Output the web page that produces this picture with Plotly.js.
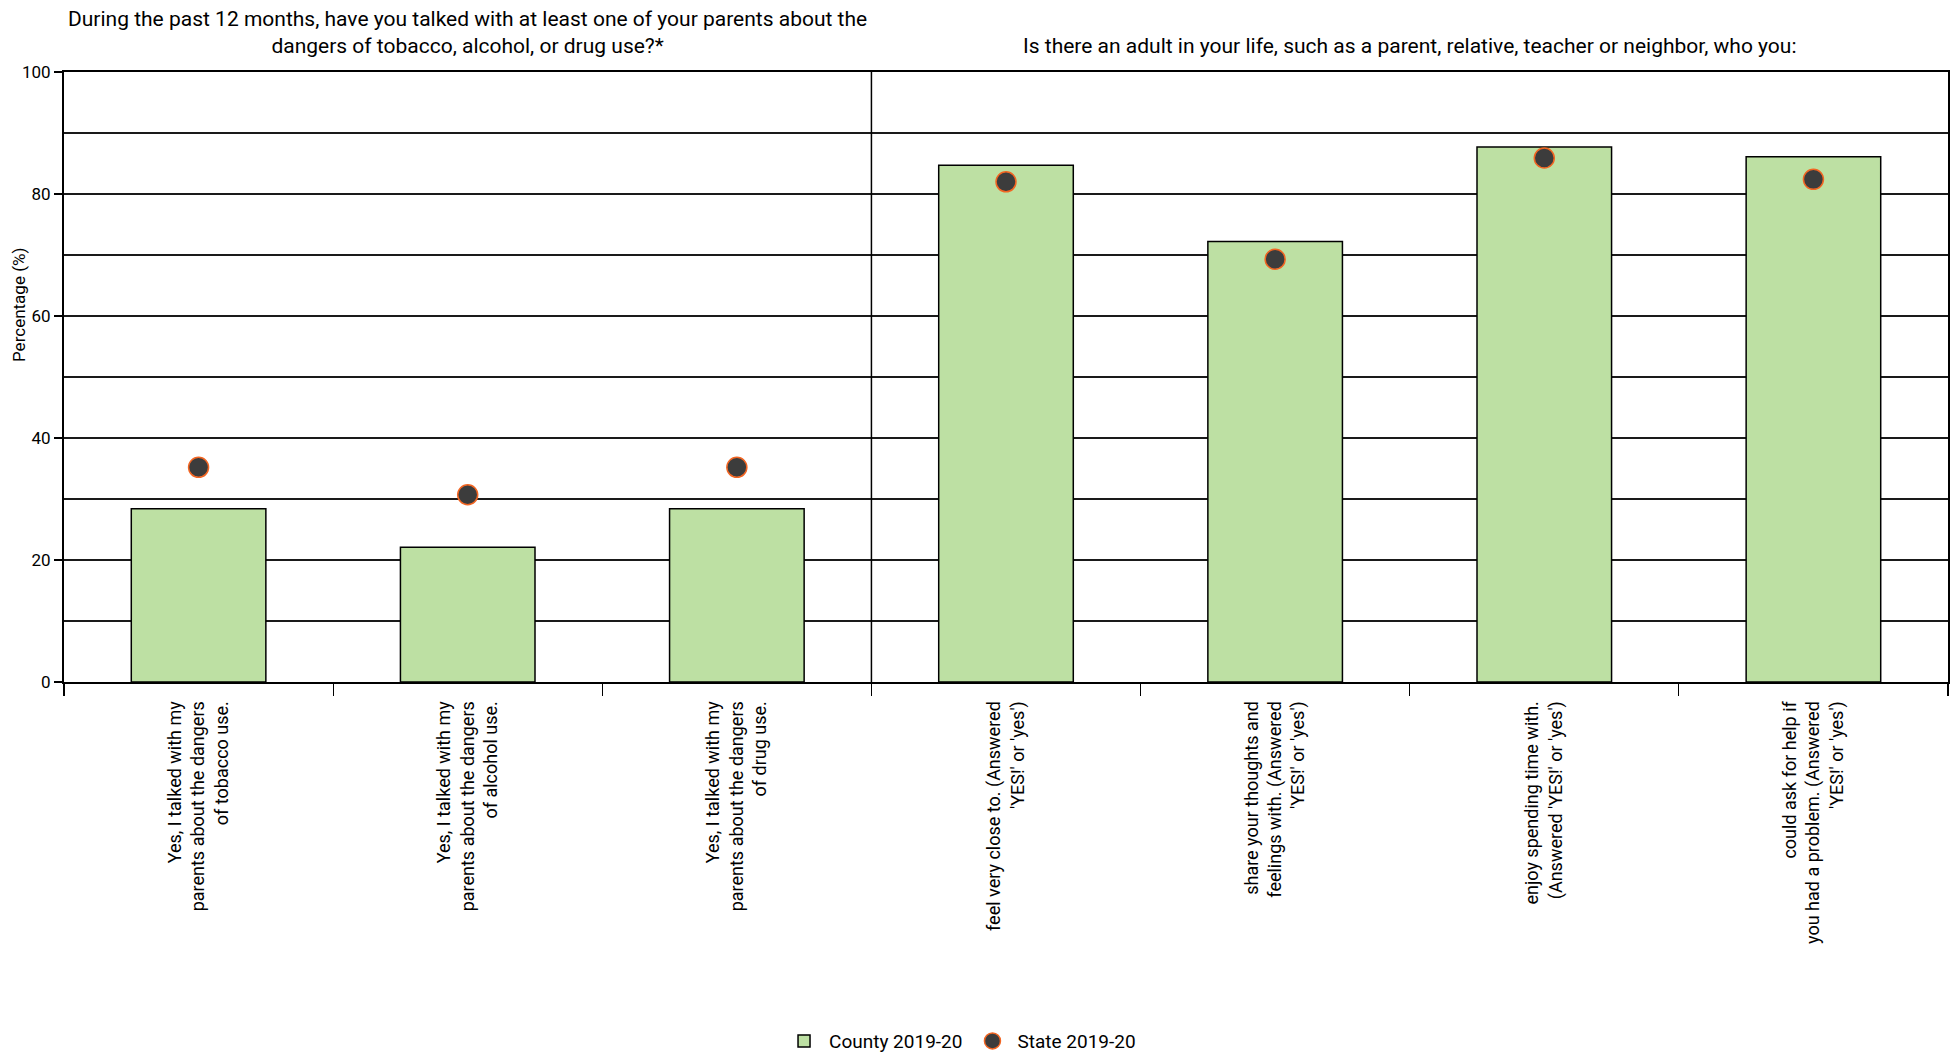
<!DOCTYPE html>
<html>
<head>
<meta charset="utf-8">
<script src="https://cdn.plot.ly/plotly-3.0.1.min.js"></script>
<style>html,body{margin:0;padding:0;background:#fff;}#chart{width:1956px;height:1054px;}</style>
</head>
<body>
<div id="chart"></div>
<script>
var categories = [
  "Yes, I talked with my<br>parents about the dangers<br>of tobacco use.",
  "Yes, I talked with my<br>parents about the dangers<br>of alcohol use.",
  "Yes, I talked with my<br>parents about the dangers<br>of drug use.",
  "feel very close to. (Answered<br>'YES!' or 'yes')",
  "share your thoughts and<br>feelings with. (Answered<br>'YES!' or 'yes')",
  "enjoy spending time with.<br>(Answered 'YES!' or 'yes')",
  "could ask for help if<br>you had a problem. (Answered<br>'YES!' or 'yes')"
];
var countyValues = [28.4, 22.1, 28.4, 84.7, 72.2, 87.7, 86.1];
var stateValues = [35.2, 30.7, 35.2, 82.0, 69.3, 85.9, 82.4];
var seriesNames = ["County 2019-20", "State 2019-20"];
var panelTitles = [
  "During the past 12 months, have you talked with at least one of your parents about the<br>dangers of tobacco, alcohol, or drug use?*",
  "Is there an adult in your life, such as a parent, relative, teacher or neighbor, who you:"
];
var yTitle = "Percentage (%)";
var panelSplit = 2.5;

var mainFont = "Roboto, sans-serif";

var traces = [
  {
    type: "bar",
    name: seriesNames[0],
    x: categories,
    y: countyValues,
    marker: {color: "#bde0a3", line: {color: "#000000", width: 1.5}},
    hoverinfo: "y"
  },
  {
    type: "scatter",
    mode: "markers",
    name: seriesNames[1],
    x: categories,
    y: stateValues,
    marker: {color: "#3c3c3c", size: 20, line: {color: "#f26522", width: 1.5}},
    hoverinfo: "y"
  }
];

var layout = {
  width: 1956,
  height: 1054,
  margin: {l: 64, r: 8, t: 72, b: 372},
  paper_bgcolor: "#ffffff",
  plot_bgcolor: "#ffffff",
  bargap: 0.5,
  showlegend: true,
  legend: {
    orientation: "h",
    x: 0.4756, xanchor: "center",
    xref: "paper",
    yref: "container",
    y: 0.0123, yanchor: "middle",
    font: {family: mainFont, size: 19, color: "#000"},
    itemwidth: 40,
    traceorder: "normal"
  },
  xaxis: {
    type: "category",
    range: [-0.5, 6.5],
    tickangle: -90,
    tickson: "boundaries",
    ticks: "outside",
    ticklen: 12,
    tickcolor: "#000",
    tickwidth: 1.2,
    ticklabelstandoff: 10,
    showline: true,
    linecolor: "#000",
    linewidth: 2,
    mirror: true,
    showgrid: false,
    automargin: false,
    tickfont: {family: mainFont, size: 18, color: "#000"},
    fixedrange: true
  },
  yaxis: {
    range: [0, 100],
    dtick: 20,
    ticks: "outside",
    ticklen: 8,
    tickcolor: "#000",
    tickwidth: 1.2,
    showline: true,
    linecolor: "#000",
    linewidth: 2,
    mirror: true,
    showgrid: true,
    gridcolor: "#1a1a1a",
    gridwidth: 2,
    zeroline: false,
    automargin: false,
    minor: {dtick: 10, showgrid: true, gridcolor: "#1a1a1a", gridwidth: 2, ticks: ""},
    tickfont: {family: mainFont, size: 17, color: "#000"},
    fixedrange: true
  },
  shapes: [
    {type: "line", xref: "x", yref: "paper", x0: panelSplit, x1: panelSplit, y0: 0, y1: 1, line: {color: "#000", width: 1.5}}
  ],
  annotations: [
    {xref: "paper", yref: "paper", x: 1.5 / 7, y: 1, yshift: 12, xanchor: "center", yanchor: "bottom", showarrow: false,
     text: panelTitles[0], font: {family: mainFont, size: 21, color: "#000"}},
    {xref: "paper", yref: "paper", x: 5 / 7, y: 1, yshift: 12, xanchor: "center", yanchor: "bottom", showarrow: false,
     text: panelTitles[1], font: {family: mainFont, size: 21, color: "#000"}},
    {xref: "paper", yref: "paper", x: -0.0239, y: 0.618, xanchor: "center", yanchor: "middle", showarrow: false,
     textangle: -90, text: yTitle, font: {family: mainFont, size: 17, color: "#000"}}
  ]
};

Plotly.newPlot("chart", traces, layout, {displayModeBar: false, staticPlot: true});
</script>
</body>
</html>
